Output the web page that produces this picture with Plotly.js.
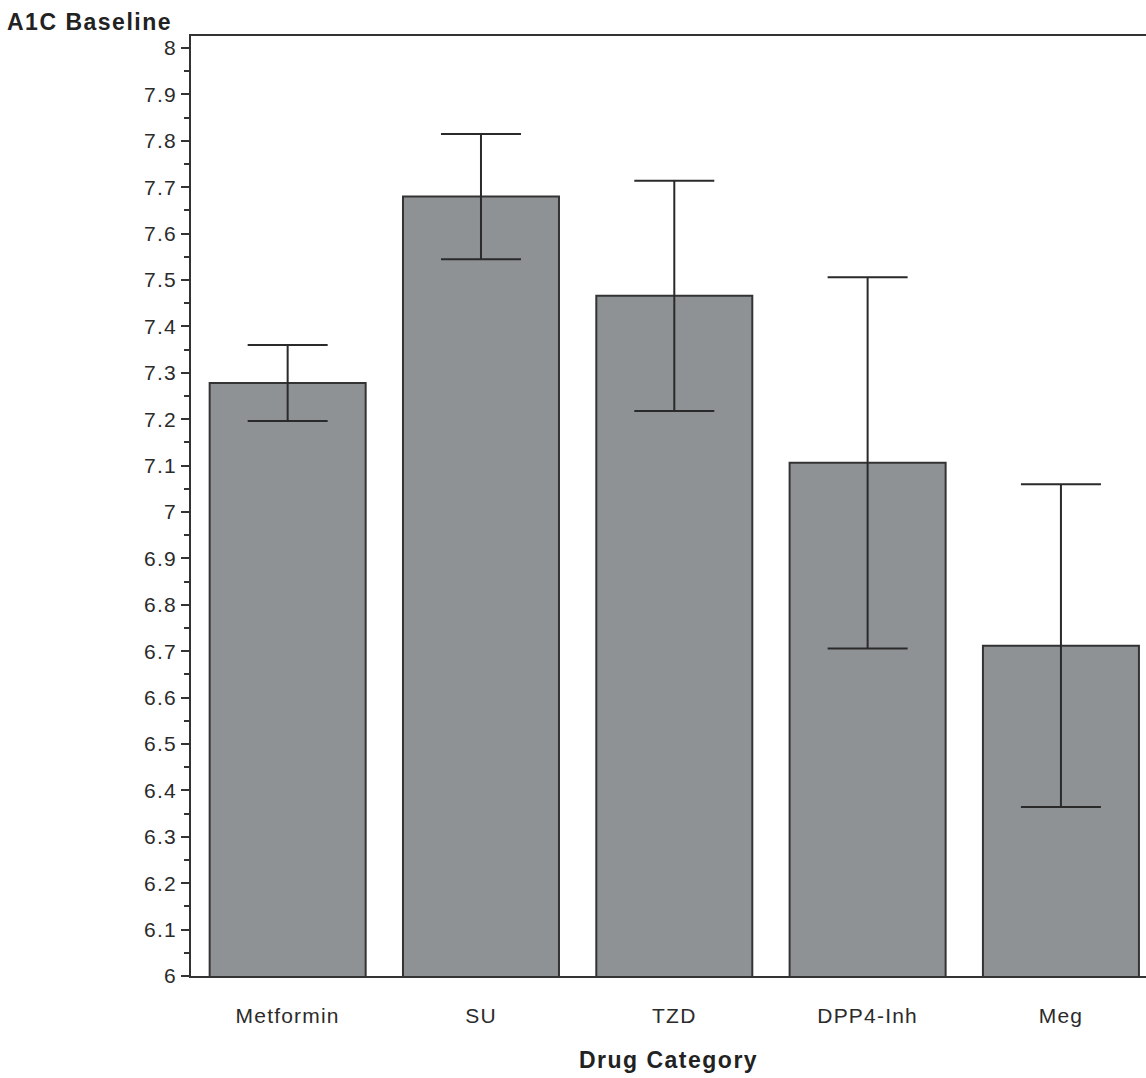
<!DOCTYPE html>
<html>
<head>
<meta charset="utf-8">
<script src="https://cdn.plot.ly/plotly-3.0.1.min.js"></script>
<style>
  html, body { margin: 0; padding: 0; background: #fff; overflow: hidden; }
  #chart { width: 1146px; height: 1078px; }
  .xtick text, .ytick text { letter-spacing: 1.2px; }
  .gtitle, .g-xtitle text { letter-spacing: 1.5px; }
</style>
</head>
<body>
<div id="chart"></div>
<script>
const categories = ["Metformin", "SU", "TZD", "DPP4-Inh", "Meg"];
const meanA1C = [7.278, 7.680, 7.466, 7.106, 6.712];
const errA1C = [0.082, 0.135, 0.248, 0.400, 0.348];
const yTickVals = [6, 6.1, 6.2, 6.3, 6.4, 6.5, 6.6, 6.7, 6.8, 6.9, 7, 7.1, 7.2, 7.3, 7.4, 7.5, 7.6, 7.7, 7.8, 7.9, 8];
const yTickText = ["6", "6.1", "6.2", "6.3", "6.4", "6.5", "6.6", "6.7", "6.8", "6.9", "7", "7.1", "7.2", "7.3", "7.4", "7.5", "7.6", "7.7", "7.8", "7.9", "8"];

const trace = {
  type: "bar",
  x: categories,
  y: meanA1C,
  marker: { color: "#8f9295", line: { color: "#333333", width: 2 } },
  error_y: { type: "data", array: errA1C, visible: true, color: "#2a2a2a", thickness: 2, width: 40 },
  hoverinfo: "x+y"
};

const layout = {
  width: 1146,
  height: 1078,
  margin: { l: 191, r: 0, t: 36, b: 102, pad: 0 },
  paper_bgcolor: "#ffffff",
  plot_bgcolor: "#ffffff",
  showlegend: false,
  bargap: 0.193,
  font: { family: "Liberation Sans, Arial, sans-serif", color: "#2b2b2b", size: 21 },
  title: {
    text: "<b>A1C Baseline</b>",
    font: { family: "Liberation Sans, Arial, sans-serif", size: 23, color: "#222222" },
    xref: "container", yref: "container",
    x: 7 / 1146, xanchor: "left",
    y: 1 - 22 / 1078, yanchor: "middle"
  },
  xaxis: {
    type: "category",
    range: [-0.5, 4.44],
    showline: true, linecolor: "#333333", linewidth: 2, mirror: true,
    showgrid: false, zeroline: false,
    ticks: "", ticklabelstandoff: 20,
    tickfont: { size: 21, color: "#2b2b2b" },
    title: { text: "<b>Drug Category</b>", font: { size: 23, color: "#222222" }, standoff: 26 }
  },
  yaxis: {
    range: [6, 8.026],
    showline: true, linecolor: "#333333", linewidth: 2, mirror: false,
    showgrid: false, zeroline: false,
    tickmode: "array", tickvals: yTickVals, ticktext: yTickText,
    ticks: "outside", ticklen: 8, tickwidth: 2, tickcolor: "#333333",
    tickfont: { size: 21, color: "#2b2b2b" },
    minor: { dtick: 0.05, tick0: 6, ticks: "outside", ticklen: 5, tickwidth: 2, tickcolor: "#333333", showgrid: false }
  }
};

Plotly.newPlot("chart", [trace], layout, { displayModeBar: false });
</script>
</body>
</html>
